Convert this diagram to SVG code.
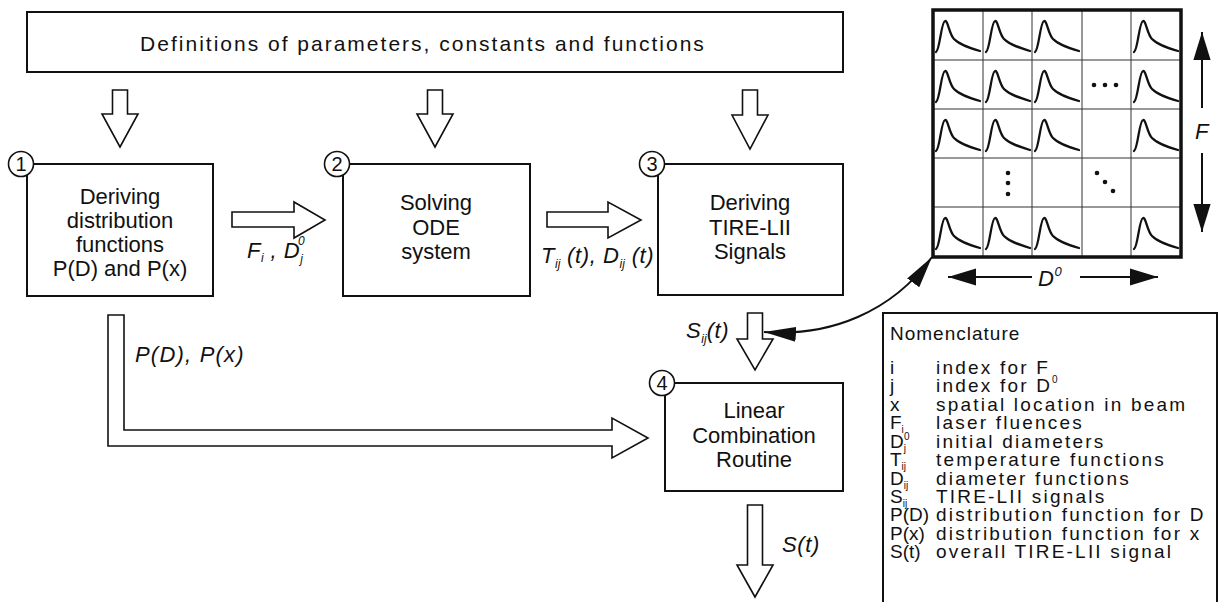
<svg xmlns="http://www.w3.org/2000/svg" xmlns:xlink="http://www.w3.org/1999/xlink" width="1224" height="602" viewBox="0 0 1224 602">
<style>
text { font-family: "Liberation Sans", Arial, sans-serif; fill: #111; }
.box { fill: none; stroke: #111; stroke-width: 2; }
.barrow { fill: #fff; stroke: #111; stroke-width: 1.6; stroke-linejoin: miter; }
.btxt { font-size: 22px; text-anchor: middle; }
.num { font-size: 20px; text-anchor: middle; }
.circ { fill: #fff; stroke: #111; stroke-width: 1.6; }
.lbl { font-size: 22px; font-style: italic; letter-spacing: 0.6px; }
.sub { font-size: 12px; font-style: italic; letter-spacing: 0; }
.nom { font-size: 19px; letter-spacing: 2.2px; }
.sym { font-size: 19px; letter-spacing: 0; }
.nsub { font-size: 10px; letter-spacing: 0; }
.grid { fill: none; stroke: #333; stroke-width: 1; }
.pulse { fill: none; stroke: #111; stroke-width: 2.3; stroke-linecap: round; }
.line { fill: none; stroke: #111; stroke-width: 2; }
</style>
<defs>
<marker id="ah" markerUnits="userSpaceOnUse" markerWidth="32" markerHeight="16" viewBox="0 0 30 14" refX="30" refY="7" orient="auto-start-reverse">
<path d="M0,0 L30,7 L0,14 Z" fill="#111"/>
</marker>
<marker id="ah2" markerUnits="userSpaceOnUse" markerWidth="28" markerHeight="18" viewBox="0 0 26 16" refX="26" refY="8" orient="auto-start-reverse">
<path d="M0,0 L26,8 L0,16 Z" fill="#111"/>
</marker>
<path id="pulse" class="pulse" d="M3,42 C7,40 8,12 12,11 C15,10 16,24 21,29 C27,35 37,38 47,41"/>
</defs>

<g id="definitions">
<rect class="box" x="27" y="12" width="816" height="60"/>
<text x="423" y="51" font-size="21" letter-spacing="2" text-anchor="middle">Definitions of parameters, constants and functions</text>
</g>

<g id="node1">
<rect class="box" x="27" y="164" width="186" height="132"/>
<circle class="circ" cx="21" cy="164" r="12.5"/>
<text class="num" x="21" y="171">1</text>
<text class="btxt" x="120" y="204">Deriving</text>
<text class="btxt" x="120" y="228">distribution</text>
<text class="btxt" x="120" y="252">functions</text>
<text class="btxt" x="120" y="276">P(D) and P(x)</text>
</g>

<g id="node2">
<rect class="box" x="343" y="164" width="187" height="132"/>
<circle class="circ" cx="337" cy="164" r="12.5"/>
<text class="num" x="337" y="171">2</text>
<text class="btxt" x="436" y="210">Solving</text>
<text class="btxt" x="436" y="235">ODE</text>
<text class="btxt" x="436" y="259">system</text>
</g>

<g id="node3">
<rect class="box" x="658" y="164" width="185" height="131"/>
<circle class="circ" cx="652" cy="164" r="12.5"/>
<text class="num" x="652" y="171">3</text>
<text class="btxt" x="750" y="210">Deriving</text>
<text class="btxt" x="750" y="235">TIRE-LII</text>
<text class="btxt" x="750" y="259">Signals</text>
</g>

<g id="node4">
<rect class="box" x="665" y="383" width="178" height="108"/>
<circle class="circ" cx="662" cy="383" r="12.5"/>
<text class="num" x="662" y="390">4</text>
<text class="btxt" x="754" y="418">Linear</text>
<text class="btxt" x="754" y="443">Combination</text>
<text class="btxt" x="754" y="467">Routine</text>
</g>

<g id="signal-matrix">
<rect x="933" y="10" width="248" height="247" fill="#fff" stroke="none"/>
<path class="grid" d="M983,10 V257 M1032,10 V257 M1082,10 V257 M1131,10 V257 M933,60 H1181 M933,109 H1181 M933,158 H1181 M933,207 H1181"/>
<rect x="933" y="10" width="248" height="247" fill="none" stroke="#111" stroke-width="3.5"/>
<use xlink:href="#pulse" x="933" y="10"/>
<use xlink:href="#pulse" x="983" y="10"/>
<use xlink:href="#pulse" x="1032" y="10"/>
<use xlink:href="#pulse" x="1131" y="10"/>
<use xlink:href="#pulse" x="933" y="60"/>
<use xlink:href="#pulse" x="983" y="60"/>
<use xlink:href="#pulse" x="1032" y="60"/>
<use xlink:href="#pulse" x="1131" y="60"/>
<use xlink:href="#pulse" x="933" y="109"/>
<use xlink:href="#pulse" x="983" y="109"/>
<use xlink:href="#pulse" x="1032" y="109"/>
<use xlink:href="#pulse" x="1131" y="109"/>
<use xlink:href="#pulse" x="933" y="207"/>
<use xlink:href="#pulse" x="983" y="207"/>
<use xlink:href="#pulse" x="1032" y="207"/>
<use xlink:href="#pulse" x="1131" y="207"/>
<g fill="#111">
<circle cx="1094" cy="85" r="2.3"/><circle cx="1105" cy="85" r="2.3"/><circle cx="1116" cy="85" r="2.3"/>
<circle cx="1008" cy="173" r="2.3"/><circle cx="1008" cy="183" r="2.3"/><circle cx="1008" cy="194" r="2.3"/>
<circle cx="1097" cy="173" r="2.3"/><circle cx="1105" cy="182" r="2.3"/><circle cx="1113" cy="191" r="2.3"/>
</g>
<line class="line" x1="1202" y1="32" x2="1202" y2="108" marker-start="url(#ah2)"/>
<line class="line" x1="1202" y1="153" x2="1202" y2="232" marker-end="url(#ah2)"/>
<text class="lbl" x="1202" y="139" text-anchor="middle">F</text>
<line class="line" x1="948" y1="277" x2="1032" y2="277" marker-start="url(#ah2)"/>
<line class="line" x1="1080" y1="277" x2="1158" y2="277" marker-end="url(#ah2)"/>
<text class="lbl" x="1038" y="286">D<tspan font-size="13" dy="-10">0</tspan></text>
</g>

<g id="nomenclature">
<rect class="box" x="883" y="313" width="334" height="300" stroke-width="1.6"/>
<text class="sym" x="890" y="340" style="letter-spacing:1px">Nomenclature</text>
<text class="sym" x="890" y="374">i</text><text class="nom" x="936" y="374">index for F</text>
<text class="sym" x="890" y="392">j</text><text class="nom" x="936" y="392">index for D<tspan class="nsub" dy="-9">0</tspan></text>
<text class="sym" x="890" y="411">x</text><text class="nom" x="936" y="411">spatial location in beam</text>
<text class="sym" x="890" y="429">F<tspan class="nsub" dy="4">i</tspan></text><text class="nom" x="936" y="429">laser fluences</text>
<text class="sym" x="890" y="448">D<tspan class="nsub" dy="4">j</tspan><tspan class="nsub" x="904" dy="-12">0</tspan></text><text class="nom" x="936" y="448">initial diameters</text>
<text class="sym" x="890" y="466">T<tspan class="nsub" dy="4">ij</tspan></text><text class="nom" x="936" y="466">temperature functions</text>
<text class="sym" x="890" y="485">D<tspan class="nsub" dy="4">ij</tspan></text><text class="nom" x="936" y="485">diameter functions</text>
<text class="sym" x="890" y="503">S<tspan class="nsub" dy="4">ij</tspan></text><text class="nom" x="936" y="503">TIRE-LII signals</text>
<text class="sym" x="890" y="521">P(D)</text><text class="nom" x="936" y="521">distribution function for D</text>
<text class="sym" x="890" y="540">P(x)</text><text class="nom" x="936" y="540">distribution function for x</text>
<text class="sym" x="890" y="558">S(t)</text><text class="nom" x="936" y="558">overall TIRE-LII signal</text>
</g>

<g id="connectors">
<polygon class="barrow" points="112.5,90 127.5,90 127.5,114 138,114 120,147 102,114 112.5,114"/>
<polygon class="barrow" points="427.5,90 442.5,90 442.5,114 453,114 435,147 417,114 427.5,114"/>
<polygon class="barrow" points="742.5,90 757.5,90 757.5,115 768,115 750,149 732,115 742.5,115"/>
<polygon class="barrow" points="232,212 294,212 294,202 325,220 294,238 294,227 232,227"/>
<polygon class="barrow" points="547,212 608,212 608,202 641,220 608,238 608,227 547,227"/>
<polygon class="barrow" points="747.5,313 762.5,313 762.5,339 773,339 755,370 737,339 747.5,339"/>
<polygon class="barrow" points="747.5,505 762.5,505 762.5,565 773,565 755,597 737,565 747.5,565"/>
<polygon class="barrow" points="108,315 124,315 124,430 612,430 612,418 648,438 612,458 612,446 108,446"/>
<path class="line" d="M764,332 C830,337 892,312 932,257" marker-start="url(#ah)" marker-end="url(#ah)"/>
<text class="lbl" x="247" y="258">F<tspan class="sub" dy="4">i</tspan><tspan dy="-4"> ,  D</tspan><tspan class="sub" dy="5">j</tspan><tspan class="sub" font-size="13" x="298" dy="-18">0</tspan></text>
<text class="lbl" x="541" y="263">T<tspan class="sub" dy="5">ij</tspan><tspan dy="-5"> (t),  D</tspan><tspan class="sub" dy="5">ij</tspan><tspan dy="-5"> (t)</tspan></text>
<text class="lbl" x="686" y="338">S<tspan class="sub" dy="5">ij</tspan><tspan dy="-5">(t)</tspan></text>
<text class="lbl" x="135" y="362" style="letter-spacing:1.2px">P(D),  P(x)</text>
<text class="lbl" x="782" y="552">S(t)</text>
</g>
</svg>
